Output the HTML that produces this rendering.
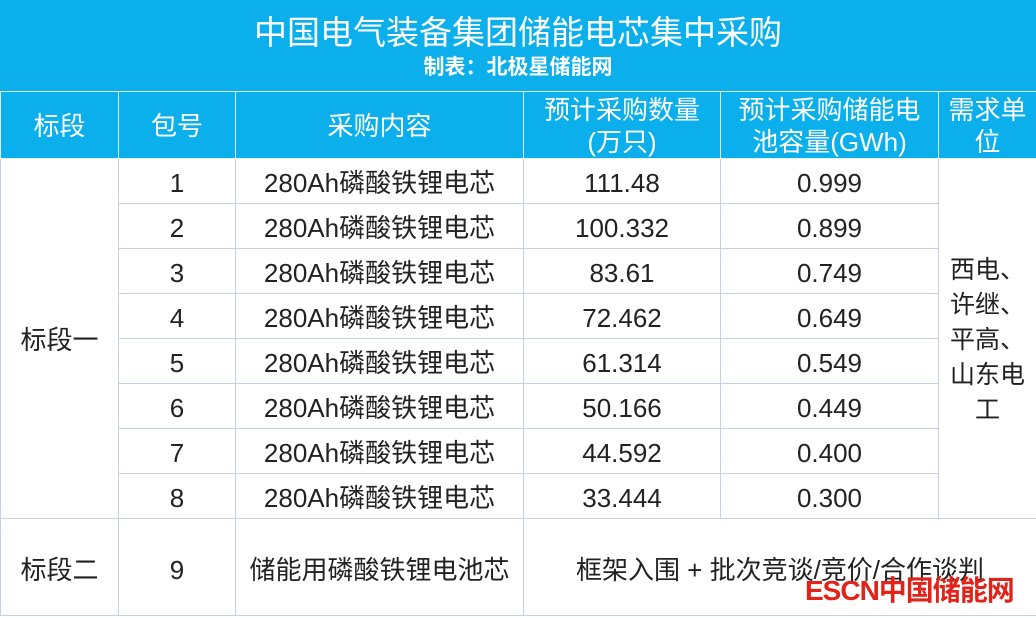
<!DOCTYPE html>
<html><head><meta charset="utf-8"><style>
html,body{margin:0;padding:0;width:1036px;height:618px;overflow:hidden;background:#fff;font-family:"Liberation Sans","Noto Sans CJK SC",sans-serif;}
.t{position:absolute;left:0;top:0;width:1036px;height:91px;background:#0aafeb;color:#fff;text-align:center;}
.t1{position:absolute;top:12px;width:100%;font-size:33px;line-height:42px;}
.t2{position:absolute;top:54px;width:100%;font-size:21px;font-weight:bold;line-height:28px;}
table{position:absolute;left:0;top:91px;border-collapse:collapse;table-layout:fixed;width:1036px;}
td{border:1px solid #c4d3e6;text-align:center;font-size:26px;color:#222;padding:0;line-height:26px;}
tr.h td{background:#0aafeb;color:#fff;height:63px;border-color:#e0f2fb;font-size:26px;line-height:32px;padding-top:2px;}
tr.r td{height:41px;padding-top:3px;}
tr.l td{height:90px;padding-top:6px;}
td.u{line-height:35px;font-size:25px;}
.logo{position:absolute;left:805px;top:569px;font-size:28px;font-weight:bold;color:#e2231a;letter-spacing:-1px;}
</style></head><body>
<div class="t"><div class="t1">中国电气装备集团储能电芯集中采购</div><div class="t2">制表：北极星储能网</div></div>
<table>
<colgroup><col style="width:118px"><col style="width:117px"><col style="width:288px"><col style="width:197px"><col style="width:218px"><col style="width:98px"></colgroup>
<tr class="h"><td>标段</td><td>包号</td><td>采购内容</td><td>预计采购数量<br>(万只)</td><td>预计采购储能电<br>池容量(GWh)</td><td>需求单<br>位</td></tr>
<tr class="r"><td rowspan="8">标段一</td><td>1</td><td>280Ah磷酸铁锂电芯</td><td>111.48</td><td>0.999</td><td rowspan="8" class="u">西电、<br>许继、<br>平高、<br>山东电<br>工</td></tr>
<tr class="r"><td>2</td><td>280Ah磷酸铁锂电芯</td><td>100.332</td><td>0.899</td></tr>
<tr class="r"><td>3</td><td>280Ah磷酸铁锂电芯</td><td>83.61</td><td>0.749</td></tr>
<tr class="r"><td>4</td><td>280Ah磷酸铁锂电芯</td><td>72.462</td><td>0.649</td></tr>
<tr class="r"><td>5</td><td>280Ah磷酸铁锂电芯</td><td>61.314</td><td>0.549</td></tr>
<tr class="r"><td>6</td><td>280Ah磷酸铁锂电芯</td><td>50.166</td><td>0.449</td></tr>
<tr class="r"><td>7</td><td>280Ah磷酸铁锂电芯</td><td>44.592</td><td>0.400</td></tr>
<tr class="r"><td>8</td><td>280Ah磷酸铁锂电芯</td><td>33.444</td><td>0.300</td></tr>
<tr class="l"><td>标段二</td><td>9</td><td>储能用磷酸铁锂电池芯</td><td colspan="3">框架入围 + 批次竞谈/竞价/合作谈判</td></tr>
</table>
<div class="logo">ESCN中国储能网</div>
</body></html>
